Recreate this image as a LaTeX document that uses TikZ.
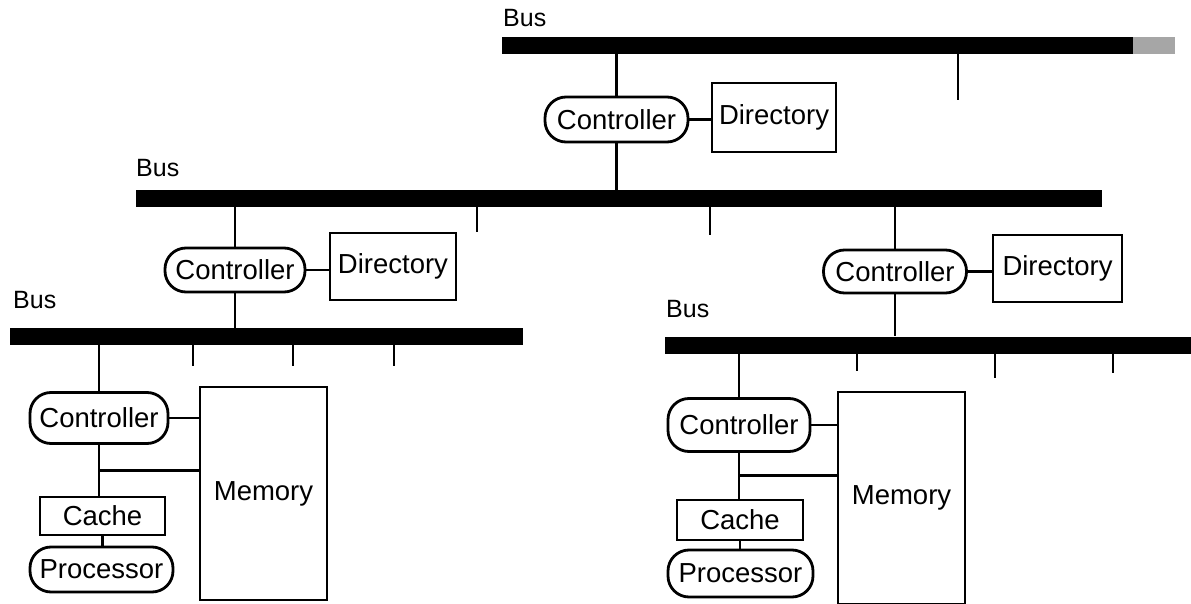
\documentclass[tikz,border=0pt]{standalone}
\usepackage{fontspec}
\setmainfont{Liberation Sans}
\usetikzlibrary{calc}
\begin{document}
\begin{tikzpicture}[x=1pt,y=-1pt,
  every node/.style={font=\fontsize{27.5}{32}\selectfont, inner sep=0pt},
  ln/.style={line width=2.8pt},
  ctrl/.style={draw, line width=2.8pt, rounded corners=21pt, minimum width=#1},
  ctrl/.default=142pt,
  box/.style={draw, line width=2.8pt},
  bus/.style={fill=black, draw=none, minimum height=17pt},
  buslabel/.style={anchor=west, font=\fontsize{25}{30}\selectfont}]
\useasboundingbox (0,0) rectangle (1191,604);
% buses
\node[bus, minimum width=673pt] (busT) at (838.5,45.5) {};
\fill[gray!70] (1133,37) rectangle (1175,54);
\node[bus, minimum width=966pt] (busM) at (619,198.5) {};
\node[bus, minimum width=513pt] (busL) at (266.5,336.5) {};
\node[bus, minimum width=526pt] (busR) at (928,345) {};
\node[buslabel] (lT) at (503,18) {Bus};
\node[buslabel] (lM) at (136,168) {Bus};
\node[buslabel] (lL) at (13,300) {Bus};
\node[buslabel] (lR) at (666,309) {Bus};
% top level
\node[ctrl=143pt, minimum height=45pt] (cT) at (616.5,119.5) {Controller};
\node[box, minimum width=124pt, minimum height=69pt] (dT) at (774,117.5) {Directory};
% middle level
\node[ctrl=140pt, minimum height=44pt] (cML) at (235,270) {Controller};
\node[box, minimum width=126pt, minimum height=67pt] (dML) at (393,266.5) {Directory};
\node[ctrl=143pt, minimum height=43pt] (cMR) at (895,271.5) {Controller};
\node[box, minimum width=129pt, minimum height=67pt] (dMR) at (1057.5,268.5) {Directory};
% bottom left
\node[ctrl=138pt, minimum height=51pt] (cL) at (99,418) {Controller};
\node[box, minimum width=127pt, minimum height=213pt] (mL) at (263.5,493.5) {Memory};
\node[box, minimum width=125pt, minimum height=38pt] (kL) at (102.5,516) {Cache};
\node[ctrl=143pt, minimum height=45pt] (pL) at (101.5,569.5) {Processor};
% bottom right
\node[ctrl=142pt, minimum height=53pt] (cR) at (739,425) {Controller};
\node[box, minimum width=127pt, minimum height=212pt] (mR) at (901.5,498) {Memory};
\node[box, minimum width=126pt, minimum height=40pt] (kR) at (740,520) {Cache};
\node[ctrl=145pt, minimum height=47pt] (pR) at (740.5,573.5) {Processor};
% free tick ends
\coordinate (tT1) at (958,100);
\coordinate (tM1) at (477,232);
\coordinate (tM2) at (710,235);
\coordinate (tL1) at (193,366);
\coordinate (tL2) at (293,366);
\coordinate (tL3) at (394,366);
\coordinate (tR1) at (857,371);
\coordinate (tR2) at (995,378);
\coordinate (tR3) at (1113,373);
% connectors
\draw[ln] (busT.south -| tT1) -- (tT1);
\draw[ln] (busT.south -| cT) -- (cT.north);
\draw[ln] (cT.east) -- (dT.west |- cT.east);
\draw[ln] (cT.south) -- (busM.north -| cT);
\draw[ln] (busM.south -| tM1) -- (tM1);
\draw[ln] (busM.south -| tM2) -- (tM2);
\draw[ln] (busM.south -| cML) -- (cML.north);
\draw[ln] (busM.south -| cMR) -- (cMR.north);
\draw[ln] (cML.east) -- (dML.west |- cML.east);
\draw[ln] (cMR.east) -- (dMR.west |- cMR.east);
\draw[ln] (cML.south) -- (busL.north -| cML);
\draw[ln] (cMR.south) -- (busR.north -| cMR);
\draw[ln] (busL.south -| tL1) -- (tL1);
\draw[ln] (busL.south -| tL2) -- (tL2);
\draw[ln] (busL.south -| tL3) -- (tL3);
\draw[ln] (busR.south -| tR1) -- (tR1);
\draw[ln] (busR.south -| tR2) -- (tR2);
\draw[ln] (busR.south -| tR3) -- (tR3);
\draw[ln] (busL.south -| cL) -- (cL.north);
\draw[ln] (busR.south -| cR) -- (cR.north);
% bottom left connections
\draw[ln] (cL.east) -- (mL.west |- cL.east);
\draw[ln] (cL.south) -- (kL.north -| cL);
\coordinate (jL) at ($(cL.south)!0.5!(kL.north -| cL)$);
\draw[ln] (jL) -- (mL.west |- jL);
\draw[ln] (kL.south) -- (pL.north -| kL);
% bottom right connections
\draw[ln] (cR.east) -- (mR.west |- cR.east);
\draw[ln] (cR.south) -- (kR.north -| cR);
\coordinate (jR) at ($(cR.south)!0.5!(kR.north -| cR)$);
\draw[ln] (jR) -- (mR.west |- jR);
\draw[ln] (kR.south) -- (pR.north -| kR);
\end{tikzpicture}
\end{document}
